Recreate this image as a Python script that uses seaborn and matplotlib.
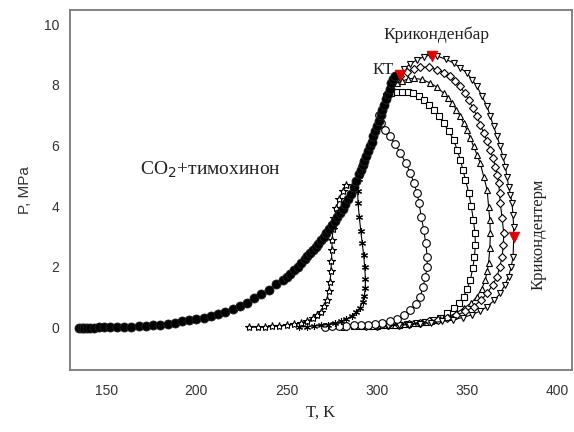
import matplotlib
matplotlib.use("Agg")
import matplotlib.pyplot as plt
import seaborn as sns

# ---- data (T in K, P in MPa) ----
T_sat = [135, 136.5, 138, 139.5, 141, 143, 146, 149, 152, 156, 160, 164, 168, 172, 176, 180, 184, 188,
         192, 196, 200, 204, 208, 212, 216, 220, 224, 228, 232, 236, 240, 244, 248, 250, 252, 254, 256, 258,
         260, 261.5, 263, 264.5, 266, 267.5, 269, 270.5, 272, 273.5, 275, 276.5, 278, 279.5, 281, 282.5, 284,
         285.5, 287, 288.5, 290, 291, 292, 293, 294, 295, 296, 297, 298, 299, 300, 301, 302, 303, 304, 305,
         306, 307, 308, 309, 310]
P_sat = [0.0, 0.0, 0.0, 0.0, 0.0, 0.0, 0.01, 0.01, 0.01, 0.02, 0.02, 0.03, 0.04, 0.06, 0.08, 0.1, 0.13, 0.16,
         0.2, 0.24, 0.28, 0.33, 0.39, 0.45, 0.52, 0.6, 0.7, 0.82, 0.96, 1.1, 1.25, 1.42, 1.58, 1.68, 1.78, 1.89,
         2.0, 2.12, 2.25, 2.35, 2.45, 2.55, 2.66, 2.77, 2.88, 3.0, 3.12, 3.24, 3.37, 3.5, 3.63, 3.77, 3.92, 4.08,
         4.24, 4.42, 4.62, 4.83, 5.05, 5.2, 5.35, 5.5, 5.65, 5.81, 5.97, 6.13, 6.3, 6.47, 6.65, 6.82, 7.0, 7.17,
         7.35, 7.52, 7.7, 7.87, 8.05, 8.2, 8.3]

T_star = [283, 281, 279, 277.5, 276.3, 275.6, 275.2, 275.0, 274.8, 274.5, 274.0, 273.2, 272.2, 270.8, 269.0,
          267.0, 264.5, 261.5, 258, 254, 250, 246, 242, 238, 234, 229]
P_star = [4.7, 4.5, 4.25, 3.95, 3.6, 3.25, 2.9, 2.55, 2.2, 1.85, 1.5, 1.2, 0.92, 0.7, 0.52, 0.4, 0.3, 0.22,
          0.16, 0.11, 0.08, 0.06, 0.04, 0.03, 0.02, 0.01]

T_ast = [291, 289.8, 289.3, 289.5, 290.2, 291.0, 291.8, 292.6, 293.2, 293.6, 293.5, 293.0, 292.0, 290.5, 288.5,
         286, 283, 280, 276.5, 273, 269, 265, 261, 257]
P_ast = [5.3, 4.9, 4.5, 4.1, 3.65, 3.2, 2.8, 2.4, 2.0, 1.6, 1.3, 1.05, 0.85, 0.65, 0.5, 0.38, 0.28, 0.2, 0.14,
         0.1, 0.07, 0.05, 0.03, 0.02]

T_circ = [301, 302, 304.5, 307.4, 310, 313, 316, 318.5, 320.5, 322.2, 323.3, 324.5, 325.9, 327, 327.8, 327.8,
          326.8, 325.5, 324, 321.5, 318.5, 315, 311, 307, 303, 299, 295, 291, 287, 283, 279, 275, 271]
P_circ = [7.0, 6.75, 6.5, 6.3, 6.05, 5.75, 5.42, 5.09, 4.76, 4.43, 4.1, 3.66, 3.22, 2.78, 2.34, 2.0, 1.68, 1.34,
          1.02, 0.78, 0.58, 0.4, 0.27, 0.2, 0.15, 0.12, 0.1, 0.08, 0.07, 0.06, 0.05, 0.04, 0.03]

T_sq = [305, 308, 311, 314, 317, 320, 323, 325.9, 328.7, 331.4, 334.2, 336.9, 339.7, 342.5, 344.4, 346.2, 347.6,
        349, 350.8, 352.2, 353.4, 354.3, 354.5, 354.0, 353.0, 351.7, 350, 348, 345.5, 342.5, 339, 335.1, 331,
        326.5, 322, 317, 312, 307, 302, 297, 292, 287, 282]
P_sq = [7.65, 7.72, 7.76, 7.78, 7.76, 7.72, 7.62, 7.5, 7.35, 7.18, 6.97, 6.74, 6.48, 6.19, 5.86, 5.53, 5.2, 4.87,
        4.45, 4.0, 3.55, 3.11, 2.72, 2.34, 1.95, 1.57, 1.28, 1.02, 0.82, 0.64, 0.47, 0.33, 0.25, 0.19, 0.15, 0.12,
        0.1, 0.08, 0.07, 0.06, 0.05, 0.04, 0.03]

T_tu = [308, 311, 314, 317, 320.3, 325, 329.6, 333.3, 336.9, 339.3, 341.6, 344, 346.2, 348, 349.9, 351.7, 353.5,
        355.4, 357.2, 359.1, 361, 361.8, 362.5, 362.8, 362.5, 361.8, 361, 360, 358, 355.4, 352, 348, 344, 339.5,
        335, 330, 325, 320, 315, 310, 305, 300, 295, 290]
P_tu = [7.95, 8.05, 8.13, 8.19, 8.22, 8.18, 8.06, 7.92, 7.73, 7.57, 7.4, 7.18, 6.96, 6.74, 6.52, 6.25, 5.97, 5.7,
        5.42, 4.98, 4.54, 3.99, 3.55, 3.11, 2.62, 2.12, 1.85, 1.57, 1.28, 1.02, 0.8, 0.64, 0.48, 0.36, 0.28, 0.22,
        0.17, 0.14, 0.11, 0.09, 0.07, 0.06, 0.05, 0.04]

T_di = [310, 313, 316.7, 320.3, 324, 328.6, 333.3, 337, 340.6, 343.4, 346.2, 348.5, 350.8, 353.1, 355.4, 357.3,
        359.1, 361, 362.8, 364.2, 365.6, 366.5, 367.4, 367.9, 368.3, 369.3, 370.2, 370.0, 369.3, 368.0, 366.5, 364,
        361, 357.5, 353.5, 349, 344, 339, 334, 329, 324, 318, 312, 306, 300, 294]
P_di = [8.15, 8.3, 8.44, 8.54, 8.6, 8.58, 8.5, 8.4, 8.28, 8.12, 7.95, 7.73, 7.51, 7.24, 6.96, 6.69, 6.41, 6.14,
        5.86, 5.58, 5.31, 5.04, 4.76, 4.43, 4.1, 3.6, 3.11, 2.72, 2.34, 2.0, 1.68, 1.4, 1.13, 0.9, 0.69, 0.53, 0.41,
        0.32, 0.25, 0.2, 0.16, 0.12, 0.1, 0.08, 0.06, 0.05]

T_td = [312, 315, 318.5, 322.2, 326, 329.6, 333.5, 338, 342.5, 346.2, 349.9, 352.7, 355.4, 358.2, 361, 362.8,
        364.6, 366.5, 368.3, 369.7, 371.1, 372, 372.9, 373.9, 374.8, 375.3, 375.7, 375.7, 375.4, 374.3, 372.9,
        370.8, 368.3, 365, 361, 357, 352.5, 347.5, 342, 336, 330, 324, 318, 312, 306, 300]
P_td = [8.3, 8.52, 8.7, 8.83, 8.93, 8.99, 8.95, 8.85, 8.72, 8.56, 8.39, 8.17, 7.95, 7.62, 7.29, 6.96, 6.63, 6.3,
        5.97, 5.64, 5.31, 4.98, 4.65, 4.38, 4.1, 3.72, 3.33, 2.95, 2.34, 2.0, 1.68, 1.4, 1.13, 0.9, 0.69, 0.54,
        0.42, 0.33, 0.26, 0.2, 0.16, 0.13, 0.1, 0.08, 0.06, 0.05]

# special points: critical point, cricondenbar, cricondentherm
T_red = [313, 330.5, 376.0]
P_red = [8.33, 8.97, 2.98]

# ---- plotting ----
sns.set_theme(style="white")
plt.rcParams['font.family'] = ['Liberation Sans', 'DejaVu Sans']
serif = ['Liberation Serif', 'DejaVu Serif']

fig = plt.figure(figsize=(5.74, 4.32), dpi=100)
ax = fig.add_axes([0.122, 0.1435, 0.8745, 0.8333])

open_style = dict(color='black', linewidth=0.8, markerfacecolor='white', markeredgecolor='black',
                  markeredgewidth=0.8, sort=False, estimator=None, ax=ax)

series = [
    (T_sq, P_sq, 's', 5.0),
    (T_tu, P_tu, '^', 5.0),
    (T_di, P_di, 'D', 4.2),
    (T_td, P_td, 'v', 5.0),
    (T_circ, P_circ, 'o', 5.5),
    (T_star, P_star, '*', 6.0),
    (T_ast, P_ast, (6, 2, 0), 5.0),
]
for T, P, m, ms in series:
    sns.lineplot(x=T, y=P, marker=m, markersize=ms, **open_style)

sns.lineplot(x=T_sat, y=P_sat, marker='o', markersize=6.5, color='black', linewidth=1.5,
             markerfacecolor='black', markeredgecolor='#222222', markeredgewidth=0.6,
             sort=False, estimator=None, ax=ax)

sns.scatterplot(x=T_red, y=P_red, marker='v', s=60, color='#e00000', edgecolor='#e00000',
                linewidth=0.5, zorder=5, ax=ax)

ax.set_xlim(130, 408)
ax.set_ylim(-1.4, 10.47)
ax.set_xticks([150, 200, 250, 300, 350, 400])
ax.set_yticks([0, 2, 4, 6, 8, 10])

for s in ax.spines.values():
    s.set_color('#7a7a7a')
    s.set_linewidth(1.3)
ax.tick_params(axis='both', direction='out', length=4, width=1, color='#7a7a7a',
               labelsize=10, labelcolor='#333333', pad=4)
ax.tick_params(axis='x', pad=6)

ax.set_xlabel('T, K', family=serif, fontsize=12, color='#222222', labelpad=5)
ax.set_ylabel('P, MPa', fontsize=11, color='#333333', labelpad=8)

ax.text(208, 5.2, 'CO$_2$+тимохинон', family=serif, fontsize=14, ha='center', va='center', color='#222222')
ax.text(333, 9.65, 'Криконденбар', family=serif, fontsize=12.5, ha='center', va='center', color='#222222')
ax.text(303.3, 8.5, 'КТ', family=serif, fontsize=12, ha='center', va='center', color='#222222')
ax.text(389.5, 3.09, 'Крикондентерм', family=serif, fontsize=12, ha='center', va='center',
        rotation=90, color='#222222')

fig.savefig('out.png', dpi=100)
